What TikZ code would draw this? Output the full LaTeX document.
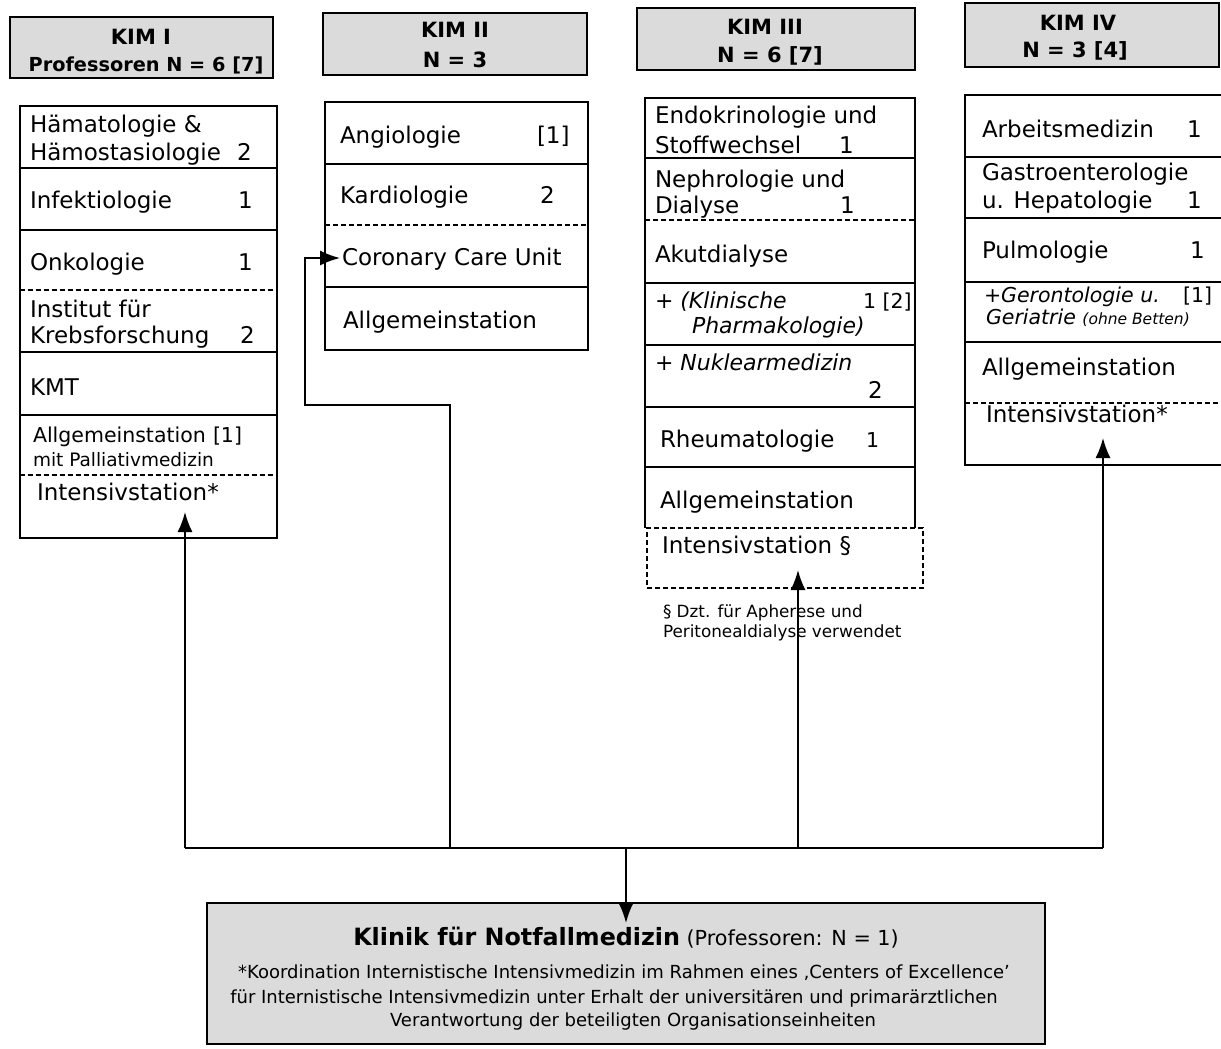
\documentclass[tikz,border=0pt]{standalone}
\usepackage{fontspec}
\setmainfont{DejaVu Sans}
\usetikzlibrary{arrows.meta}
\begin{document}
\begin{tikzpicture}[x=1pt,y=-1pt,
  every node/.style={inner sep=0pt, outer sep=0pt},
  lbl/.style={anchor=base west, font=\fontsize{23}{26}\selectfont},
  lbli/.style={anchor=base west, font=\fontsize{22}{26}\selectfont\itshape},
  lblm/.style={anchor=base west, font=\fontsize{20.5}{24}\selectfont},
  lbls/.style={anchor=base west, font=\fontsize{18.5}{22}\selectfont},
  note/.style={anchor=base west, font=\fontsize{16.8}{19}\selectfont},
  hdr/.style={draw, line width=1.8pt, fill=gray!28, anchor=north west},
  hdrtxt/.style={anchor=base, font=\fontsize{21}{24}\selectfont\bfseries},
  col/.style={draw, line width=1.7pt},
  sep/.style={line width=1.4pt},
  dsep/.style={line width=1.2pt, dash pattern=on 5pt off 3pt},
  conn/.style={line width=1.7pt},
  arr/.style={conn, -{Latex[length=20pt,width=15pt]}},
  foot/.style={anchor=base, font=\fontsize{18}{21}\selectfont},
]
\useasboundingbox (0,0) rectangle (1221,1049);

% ---------- headers ----------
\node[hdr, minimum width=263pt, minimum height=61pt] (h1) at (10,17) {};
\node[hdrtxt] (h1a) at (141,45) {KIM I};
\node[hdrtxt, font=\fontsize{19.3}{22}\selectfont\bfseries] (h1b) at (146,71) {Professoren N = 6 [7]};

\node[hdr, minimum width=264pt, minimum height=62pt] (h2) at (323,13) {};
\node[hdrtxt] (h2a) at (455,38) {KIM II};
\node[hdrtxt] (h2b) at (455,67) {N = 3};

\node[hdr, minimum width=278pt, minimum height=62pt] (h3) at (637,8) {};
\node[hdrtxt] (h3a) at (765,35) {KIM III};
\node[hdrtxt] (h3b) at (770,63) {N = 6 [7]};

\node[hdr, minimum width=254pt, minimum height=64pt] (h4) at (965,3) {};
\node[hdrtxt] (h4a) at (1078,31) {KIM IV};
\node[hdrtxt] (h4b) at (1075,58) {N = 3 [4]};

% ---------- KIM I ----------
\node[col, anchor=north west, minimum width=257pt, minimum height=432pt] (k1) at (20,106) {};
\foreach \yy in {168,230,352,415} \draw[sep] (20,\yy) -- (277,\yy);
\foreach \yy in {290,475} \draw[dsep] (20,\yy) -- (277,\yy);
\node[lbl] (a1) at (30,132) {Hämatologie \&};
\node[lbl] (a2) at (30,160) {Hämostasiologie};
\node[lbl] (a2n) at (237,160) {2};
\node[lbl] (a3) at (30,208) {Infektiologie};
\node[lbl] (a3n) at (238,208) {1};
\node[lbl] (a4) at (30,270) {Onkologie};
\node[lbl] (a4n) at (238,270) {1};
\node[lbl] (a5) at (30,317) {Institut für};
\node[lbl] (a6) at (30,343) {Krebsforschung};
\node[lbl] (a6n) at (240,343) {2};
\node[lbl] (a7) at (30,395) {KMT};
\node[lblm] (a8) at (33,442) {Allgemeinstation};
\node[lblm] (a8n) at (213,442) {[1]};
\node[lbls] (a9) at (33,466) {mit Palliativmedizin};
\node[lbl] (a10) at (37,500) {Intensivstation*};

% ---------- KIM II ----------
\node[col, anchor=north west, minimum width=263pt, minimum height=248pt] (k2) at (325,102) {};
\foreach \yy in {164,287} \draw[sep] (325,\yy) -- (588,\yy);
\draw[dsep] (325,225) -- (588,225);
\node[lbl] (b1t) at (340,143) {Angiologie};
\node[lbl] (b1n) at (537,143) {[1]};
\node[lbl] (b2t) at (340,203) {Kardiologie};
\node[lbl] (b2n) at (540,203) {2};
\node[lbl] (ccu) at (342,265) {Coronary Care Unit};
\node[lbl] (b4t) at (343,328) {Allgemeinstation};

% ---------- KIM III ----------
\draw[col] (645,528) -- (645,98) -- (915,98) -- (915,528);
\foreach \yy in {158,283,345,407,467} \draw[sep] (645,\yy) -- (915,\yy);
\draw[dsep] (645,220) -- (915,220);
\node[draw, dsep, anchor=north west, minimum width=276pt, minimum height=60pt] (k3i) at (647,528) {};
\node[lbl] (c1) at (655,123) {Endokrinologie und};
\node[lbl] (c2) at (655,153) {Stoffwechsel};
\node[lbl] (c2n) at (839,153) {1};
\node[lbl] (c3) at (655,187) {Nephrologie und};
\node[lbl] (c4) at (655,213) {Dialyse};
\node[lbl] (c4n) at (840,213) {1};
\node[lbl] (c5) at (655,262) {Akutdialyse};
\node[lbli] (c6) at (655,308) {+ (Klinische};
\node[lblm] (c6n) at (863,308) {1 [2]};
\node[lbli] (c7) at (692,333) {Pharmakologie)};
\node[lbli] (c8) at (655,370) {+ Nuklearmedizin};
\node[lbl] (c8n) at (868,398) {2};
\node[lbl] (c9) at (660,447) {Rheumatologie};
\node[lblm] (c9n) at (866,447) {1};
\node[lbl] (c10) at (660,508) {Allgemeinstation};
\node[lbl] (c11) at (662,553) {Intensivstation §};
\node[note] (c12) at (663,617) {§ Dzt. für Apherese und};
\node[note] (c13) at (663,637) {Peritonealdialyse verwendet};

% ---------- KIM IV ----------
\draw[col] (1240,465) -- (965,465) -- (965,95) -- (1240,95);
\foreach \yy in {157,218,282,342} \draw[sep] (965,\yy) -- (1240,\yy);
\draw[dsep] (965,403) -- (1240,403);
\node[lbl] (d1) at (982,137) {Arbeitsmedizin};
\node[lbl] (d1n) at (1187,137) {1};
\node[lbl] (d2) at (982,180) {Gastroenterologie};
\node[lbl] (d3) at (982,208) {u. Hepatologie};
\node[lbl] (d3n) at (1187,208) {1};
\node[lbl] (d4) at (982,258) {Pulmologie};
\node[lbl] (d4n) at (1190,258) {1};
\node[lbli, font=\fontsize{20.5}{24}\selectfont\itshape] (d5) at (984,302) {+Gerontologie u.};
\node[lblm] (d5n) at (1183,302) {[1]};
\node[lbli, font=\fontsize{20.5}{24}\selectfont\itshape] (d6) at (986,324) {Geriatrie {\fontsize{15.5}{17}\selectfont(ohne Betten)}};
\node[lbl] (d7) at (982,375) {Allgemeinstation};
\node[lbl] (d8) at (986,422) {Intensivstation*};

% ---------- Notfallmedizin ----------
\node[hdr, minimum width=838pt, minimum height=141pt] (nf) at (207,903) {};
\node[anchor=base, font=\fontsize{20.7}{24}\selectfont] (nft) at (626,945)
  {{\fontsize{23.8}{26}\selectfont\bfseries Klinik für Notfallmedizin} (Professoren: N = 1)};
\node[foot] (nf1) at (624,978) {*Koordination Internistische Intensivmedizin im Rahmen eines ‚Centers of Excellence’};
\node[foot] (nf2) at (614,1003) {für Internistische Intensivmedizin unter Erhalt der universitären und primarärztlichen};
\node[foot] (nf3) at (633,1026) {Verantwortung der beteiligten Organisationseinheiten};

% ---------- connectors ----------
\coordinate (bus1) at (185,848);
\coordinate (bus2) at (450,848);
\coordinate (bus3) at (798,848);
\coordinate (bus4) at (1103,848);
\coordinate (busm) at (626,848);
\coordinate (t1) at (185,512);
\coordinate (k2a) at (450,405);
\coordinate (k2b) at (305,405);
\coordinate (k2c) at (305,258);
\coordinate (t2) at (340,258);
\coordinate (t3) at (798,570);
\coordinate (t4) at (1103,438);

\draw[conn] (bus1) -- (bus4);
\draw[arr] (bus1) -- (t1);
\draw[arr] (bus2) -- (k2a) -- (k2b) -- (k2c) -- (t2);
\draw[arr] (bus3) -- (t3);
\draw[arr] (bus4) -- (t4);
\draw[arr] (busm) -- ([yshift=-20pt]nf.north);
\end{tikzpicture}
\end{document}
